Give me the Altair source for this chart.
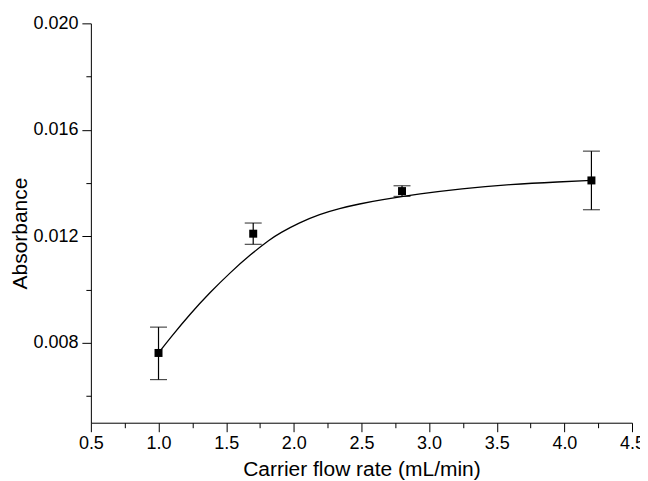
import altair as alt
import pandas as pd

# Measured points
flow = [1.0, 1.7, 2.8, 4.2]
absorb = [0.00762, 0.0121, 0.0137, 0.0141]
err_lo = [0.00662, 0.0117, 0.0135, 0.0130]
err_hi = [0.00859, 0.0125, 0.0139, 0.0152]

# Fitted curve
curve_x = [1.0, 1.087, 1.234, 1.382, 1.53, 1.678, 1.826, 1.895, 2.044, 2.191, 2.338,
           2.486, 2.633, 2.936, 3.231, 3.601, 3.97, 4.2]
curve_y = [0.00762, 0.00819, 0.00909, 0.00990, 0.01064, 0.01131, 0.01189, 0.01212,
           0.01252, 0.01283, 0.01305, 0.01322, 0.01336, 0.01360, 0.01379, 0.01395,
           0.01405, 0.01410]

x_major = [0.5, 1.0, 1.5, 2.0, 2.5, 3.0, 3.5, 4.0, 4.5]
x_minor = [0.75, 1.25, 1.75, 2.25, 2.75, 3.25, 3.75, 4.25]
y_major = [0.008, 0.012, 0.016, 0.020]
y_minor = [0.006, 0.010, 0.014, 0.018]

pts = pd.DataFrame({"x": flow, "y": absorb, "lo": err_lo, "hi": err_hi})
cur = pd.DataFrame({"x": curve_x, "y": curve_y})

FONT = "Liberation Sans"
xs = alt.Scale(domain=[0.5, 4.5], nice=False, zero=False)
ys = alt.Scale(domain=[0.005, 0.020], nice=False, zero=False)

common = dict(grid=False, domainColor="black", tickColor="black", labelColor="black",
              titleColor="black", labelFont=FONT, titleFont=FONT, labelFontSize=18,
              titleFontSize=21, titleFontWeight="normal", domainWidth=1, tickWidth=1)

x_axis_major = alt.Axis(orient="bottom", values=x_major, format=".1f", tickSize=9,
                        labelPadding=3, title="Carrier flow rate (mL/min)",
                        titleBaseline="alphabetic", titleY=53, labelFlush=False, **common)
y_axis_major = alt.Axis(orient="left", values=y_major, format=".3f", tickSize=9,
                        labelPadding=4, title="Absorbance", titleBaseline="alphabetic",
                        titleX=-64, titleY=210, titleAngle=270, **common)
x_axis_minor = alt.Axis(orient="bottom", values=x_minor, tickSize=5, labels=False,
                        domain=False, title=None, grid=False, tickColor="black", tickWidth=1)
y_axis_minor = alt.Axis(orient="left", values=y_minor, tickSize=5, labels=False,
                        domain=False, title=None, grid=False, tickColor="black", tickWidth=1)

curve = alt.Chart(cur).mark_line(color="black", strokeWidth=1.3, interpolate="basis").encode(
    x=alt.X("x:Q", scale=xs, axis=x_axis_minor),
    y=alt.Y("y:Q", scale=ys, axis=y_axis_minor),
)

bars = alt.Chart(pts).mark_errorbar(ticks={"size": 17}, thickness=1.2, color="black").encode(
    x=alt.X("x:Q", scale=xs, axis=None),
    y=alt.Y("lo:Q", scale=ys, axis=None),
    y2="hi:Q",
)

points = alt.Chart(pts).mark_square(size=64, color="black", opacity=1).encode(
    x=alt.X("x:Q", scale=xs, axis=x_axis_major),
    y=alt.Y("y:Q", scale=ys, axis=y_axis_major),
)

chart = alt.layer(curve, bars, points).resolve_axis(
    x="independent", y="independent"
).properties(
    width=542, height=400,
    autosize=alt.AutoSizeParams(type="none"),
    padding={"left": 83, "top": 15, "right": 8, "bottom": 58},
    background="white",
).configure_view(stroke=None)

chart.save("out.html", embed_options={"renderer": "svg", "actions": False})
